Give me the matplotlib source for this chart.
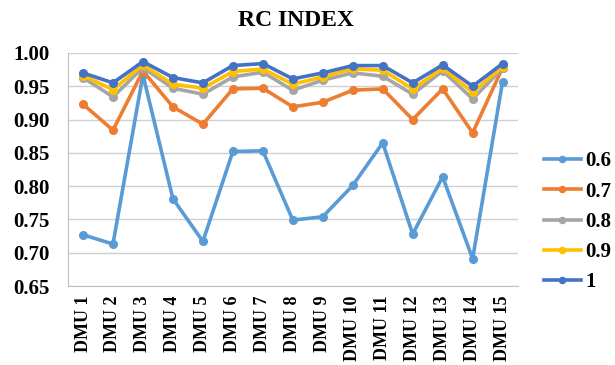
import matplotlib
matplotlib.use("Agg")
import matplotlib.pyplot as plt
from matplotlib.ticker import MultipleLocator, FormatStrFormatter

categories = [f"DMU {i}" for i in range(1, 16)]

rc_06 = [0.727, 0.713, 0.967, 0.781, 0.717, 0.852, 0.853, 0.749, 0.754,
         0.801, 0.865, 0.728, 0.814, 0.691, 0.957]
rc_07 = [0.923, 0.884, 0.973, 0.919, 0.893, 0.946, 0.947, 0.919, 0.926,
         0.944, 0.946, 0.900, 0.946, 0.880, 0.978]
rc_08 = [0.963, 0.934, 0.978, 0.947, 0.938, 0.964, 0.971, 0.944, 0.959,
         0.970, 0.965, 0.938, 0.973, 0.931, 0.977]
rc_09 = [0.966, 0.945, 0.982, 0.953, 0.947, 0.972, 0.976, 0.953, 0.964,
         0.976, 0.974, 0.946, 0.977, 0.941, 0.979]
rc_10 = [0.970, 0.955, 0.987, 0.963, 0.955, 0.981, 0.984, 0.961, 0.970,
         0.981, 0.981, 0.955, 0.982, 0.950, 0.984]

series = [("0.6", rc_06, "#5B9BD5"),
          ("0.7", rc_07, "#ED7D31"),
          ("0.8", rc_08, "#A5A5A5"),
          ("0.9", rc_09, "#FFC000"),
          ("1", rc_10, "#4472C4")]

plt.rcParams["font.family"] = ["Liberation Serif", "DejaVu Serif"]
plt.rcParams["font.weight"] = "bold"

fig = plt.figure(figsize=(6.15, 3.65), dpi=100)
ax = fig.add_axes([0.1106, 0.2164, 0.731, 0.6386])

x = range(len(categories))
for label, vals, color in series:
    ax.plot(x, vals, color=color, lw=2.6, marker="o", ms=5.5, label=label,
            solid_joinstyle="round")

ax.set_xlim(-0.5, len(categories) - 0.5)
ax.set_ylim(0.65, 1.00)
ax.yaxis.set_major_locator(MultipleLocator(0.05))
ax.yaxis.set_major_formatter(FormatStrFormatter("%.2f"))
ax.grid(axis="y", color="#D0D0D0", lw=1.0)
ax.set_axisbelow(True)

ax.set_xticks(list(x))
ax.set_xticklabels(categories, rotation=90, fontsize=13, fontweight="bold")
for t in ax.get_yticklabels():
    t.set_fontsize(15)
    t.set_fontweight("bold")
ax.tick_params(axis="x", length=0, pad=7)
ax.tick_params(axis="y", length=0, pad=13)

for s in ("top", "right"):
    ax.spines[s].set_visible(False)
for s in ("left", "bottom"):
    ax.spines[s].set_color("#BFBFBF")

fig.text(0.482, 0.945, "RC INDEX", ha="center", va="center",
         fontsize=17, fontweight="bold")

fig.legend(loc="upper left", bbox_to_anchor=(0.884, 0.585), frameon=False,
           prop={"size": 15, "weight": "bold"}, handlelength=1.8,
           labelspacing=0.49, handletextpad=0.2, borderpad=0,
           borderaxespad=0, markerscale=0.8)

fig.savefig("out.png", dpi=100)
